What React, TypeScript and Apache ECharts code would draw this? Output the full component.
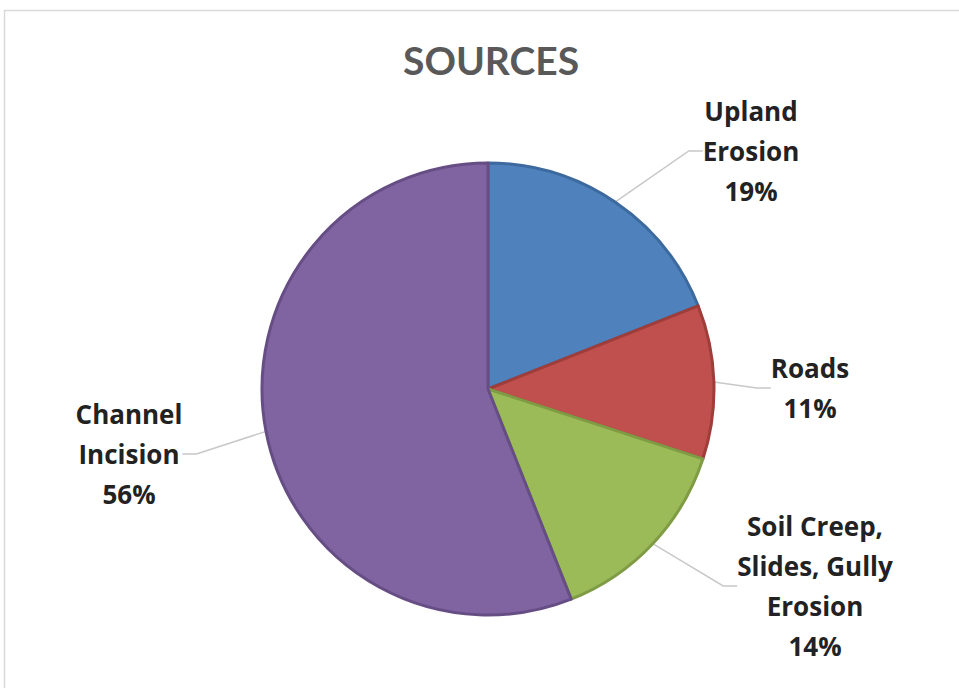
import React, { useEffect, useRef } from "react";
import * as echarts from "echarts";

const categories = [
  "Upland\nErosion",
  "Roads",
  "Soil Creep,\nSlides, Gully\nErosion",
  "Channel\nIncision",
];
const values = [19, 11, 14, 56];
const colors = ["#4F81BD", "#C0504D", "#9BBB59", "#8064A2"];
const borderColors = ["#3C6A9E", "#9E3D3A", "#7F9C45", "#664E85"];
const titleText = "SOURCES";

// label block centres (layout only)
const labelPos = [
  [751, 151],
  [810, 388],
  [815, 586],
  [129, 454],
];

export default function App() {
  const ref = useRef<HTMLDivElement>(null);
  useEffect(() => {
    if (!ref.current) return;
    const chart = echarts.init(ref.current, undefined, { renderer: "svg" });
    chart.setOption({
      animation: false,
      backgroundColor: "#ffffff",
      title: {
        text: titleText,
        left: 398,
        top: 35,
        textStyle: {
          fontFamily: "Lato",
          fontWeight: "bold",
          fontSize: 39,
          color: "#595959",
        },
      },
      graphic: [
        {
          type: "rect",
          shape: { x: 4.5, y: 10.5, width: 1000, height: 1000 },
          style: { fill: "none", stroke: "#d9d9d9", lineWidth: 1.5 },
          silent: true,
        },
      ],
      series: [
        {
          type: "pie",
          center: [488, 389],
          radius: 226,
          startAngle: 90,
          clockwise: true,
          data: categories.map((name, i) => ({
            name,
            value: values[i],
            itemStyle: {
              color: colors[i],
              borderColor: borderColors[i],
              borderWidth: 3,
            },
          })),
          label: {
            show: true,
            formatter: "{b}\n{d}%",
            fontFamily: "Open Sans",
            fontWeight: "bold",
            fontSize: 26,
            lineHeight: 40,
            color: "#222222",
            align: "center",
          },
          labelLine: {
            show: true,
            length: 20,
            length2: 14,
            lineStyle: { color: "#c8c8c8", width: 1.5 },
          },
          labelLayout: (params: any) => {
            const p = labelPos[params.dataIndex];
            return {
              x: p[0],
              y: p[1],
              align: "center",
              verticalAlign: "middle",
            };
          },
        },
      ],
    });
    return () => chart.dispose();
  }, []);
  return (
    <div
      ref={ref}
      style={{ position: "fixed", left: 0, top: 0, width: 959, height: 688 }}
    />
  );
}
